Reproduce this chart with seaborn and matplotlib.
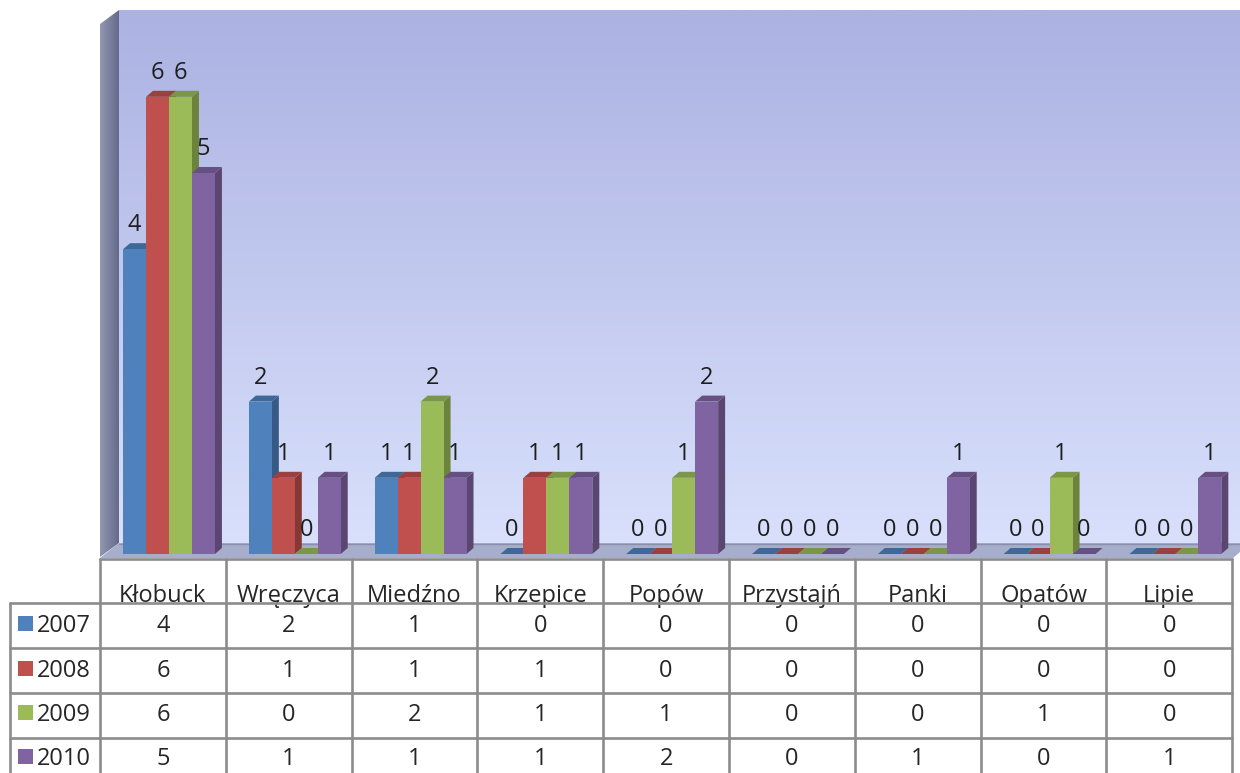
import numpy as np
import pandas as pd
import matplotlib
matplotlib.use("Agg")
import matplotlib.pyplot as plt
import seaborn as sns
from matplotlib.patches import Polygon, Rectangle

# ---------------- data ----------------
gminy = ["Kłobuck", "Wręczyca", "Miedźno", "Krzepice", "Popów",
         "Przystajń", "Panki", "Opatów", "Lipie"]
years = ["2007", "2008", "2009", "2010"]
v2007 = [4, 2, 1, 0, 0, 0, 0, 0, 0]
v2008 = [6, 1, 1, 1, 0, 0, 0, 0, 0]
v2009 = [6, 0, 2, 1, 1, 0, 0, 1, 0]
v2010 = [5, 1, 1, 1, 2, 0, 1, 0, 1]
colors = ["#4f81bd", "#c0504d", "#9bbb59", "#8064a2"]

series = {"2007": v2007, "2008": v2008, "2009": v2009, "2010": v2010}
df = pd.DataFrame([(g, y, series[y][i]) for y in years for i, g in enumerate(gminy)],
                  columns=["gmina", "rok", "value"])

sns.set_theme(style="white")
plt.rcParams["font.family"] = ["Open Sans", "DejaVu Sans"]
FS = 17

W, H = 1240, 773
fig = plt.figure(figsize=(12.4, 7.73), dpi=100)
fig.patch.set_facecolor("white")

# pixel-space background axes
axp = fig.add_axes([0, 0, 1, 1], zorder=0)
axp.set_xlim(0, W)
axp.set_ylim(H, 0)
axp.axis("off")

# back wall gradient
top_c = np.array([172, 178, 226]) / 255
bot_c = np.array([216, 224, 252]) / 255
t = np.linspace(0, 1, 256)[:, None]
grad = (top_c[None, :] * (1 - t) + bot_c[None, :] * t)[:, None, :]
axp.imshow(grad, extent=(119, 1240, 543, 10), aspect="auto", origin="upper", zorder=1)

# left wall
lw_l = np.array([146, 152, 176]) / 255
lw_r = np.array([100, 106, 138]) / 255
s = np.linspace(0, 1, 64)[None, :]
gradw = (lw_l[:, None] * (1 - s) + lw_r[:, None] * s).T[None, :, :]
im = axp.imshow(gradw, extent=(100, 119, 557, 10), aspect="auto", origin="upper", zorder=1)
wall = Polygon([(100, 24), (119, 10), (119, 543), (100, 557)], closed=True,
               transform=axp.transData, facecolor="none", edgecolor="none")
axp.add_patch(wall)
im.set_clip_path(wall)

# floor
floor = Polygon([(100, 558), (119, 543), (1240, 543), (1240, 552), (1233, 558)],
                closed=True, facecolor="#a7aecb", edgecolor="none", zorder=2)
axp.add_patch(floor)
axp.plot([119, 1240], [543.5, 543.5], color="#8a90ac", lw=1, zorder=2)

# ---------------- main chart ----------------
L, R, T, B = 100, 1240, 10, 557
ax = fig.add_axes([L / W, 1 - B / H, (R - L) / W, (B - T) / H], zorder=1)
ax.patch.set_alpha(0)

sns.barplot(data=df, x="gmina", y="value", hue="rok", order=gminy, hue_order=years,
            palette=colors, width=0.73, saturation=1, legend=False, ax=ax,
            edgecolor="none", linewidth=0, zorder=3, errorbar=None)

catpx = 125.8
c0 = 169.0
zero_px = 554.0
ppu = 76.2
ax.set_xlim((L - c0) / catpx, (R - c0) / catpx)
ax.set_ylim(-(B - zero_px) / ppu, (zero_px - T) / ppu)
ax.axis("off")

dx = 7 / catpx
dy = 6 / ppu

def shade(c, f):
    c = np.array(matplotlib.colors.to_rgb(c))
    return tuple(c * f)

for p in list(ax.patches):
    x0 = p.get_x()
    w = p.get_width()
    h = p.get_height()
    fc = p.get_facecolor()[:3]
    side = Polygon([(x0 + w, 0), (x0 + w + dx, dy), (x0 + w + dx, h + dy), (x0 + w, h)],
                   closed=True, facecolor=shade(fc, 0.70), edgecolor="none", zorder=2)
    top = Polygon([(x0, h), (x0 + dx, h + dy), (x0 + w + dx, h + dy), (x0 + w, h)],
                  closed=True, facecolor=shade(fc, 0.80), edgecolor="none", zorder=2)
    ax.add_patch(side)
    ax.add_patch(top)
    ax.text(x0 + w / 2, h + 18 / ppu, f"{int(round(h))}", ha="center", va="baseline",
            fontsize=FS, color="#1e1e1e", zorder=5)

# ---------------- data table ----------------
line_c = "#8c8c8c"
lwid = 1.9
cols_x = [100 + catpx * i for i in range(10)]
row_y = [559, 603, 647.5, 692.5, 737.5]
baselines = [632, 677, 721, 765]
tcol = "#262626"

axp.plot([100, cols_x[-1]], [row_y[0], row_y[0]], color=line_c, lw=lwid, zorder=6)
for yy in row_y[1:]:
    axp.plot([10, cols_x[-1]], [yy, yy], color=line_c, lw=lwid, zorder=6)
axp.plot([10, 10], [603, H], color=line_c, lw=lwid, zorder=6)
for xx in cols_x:
    axp.plot([xx, xx], [row_y[0], H], color=line_c, lw=lwid, zorder=6)

clip_rect = Rectangle((100, 557), cols_x[-1] - 100, 46, transform=axp.transData,
                      facecolor="none", edgecolor="none")
axp.add_patch(clip_rect)
for j, g in enumerate(gminy):
    cx = (cols_x[j] + cols_x[j + 1]) / 2
    tx = axp.text(cx, 602, g, ha="center", va="baseline", fontsize=FS, color=tcol, zorder=5)
    tx.set_clip_path(clip_rect)

for r, y in enumerate(years):
    bl = baselines[r]
    axp.add_patch(Rectangle((18, bl - 16), 14.5, 14.5, facecolor=colors[r],
                            edgecolor="none", zorder=5))
    axp.text(37, bl, y, ha="left", va="baseline", fontsize=FS, color=tcol, zorder=5)
    vals = series[y]
    for j in range(len(gminy)):
        cx = (cols_x[j] + cols_x[j + 1]) / 2
        axp.text(cx, bl, str(vals[j]), ha="center", va="baseline", fontsize=FS,
                 color=tcol, zorder=5)

fig.savefig("out.png", dpi=100, facecolor="white")
